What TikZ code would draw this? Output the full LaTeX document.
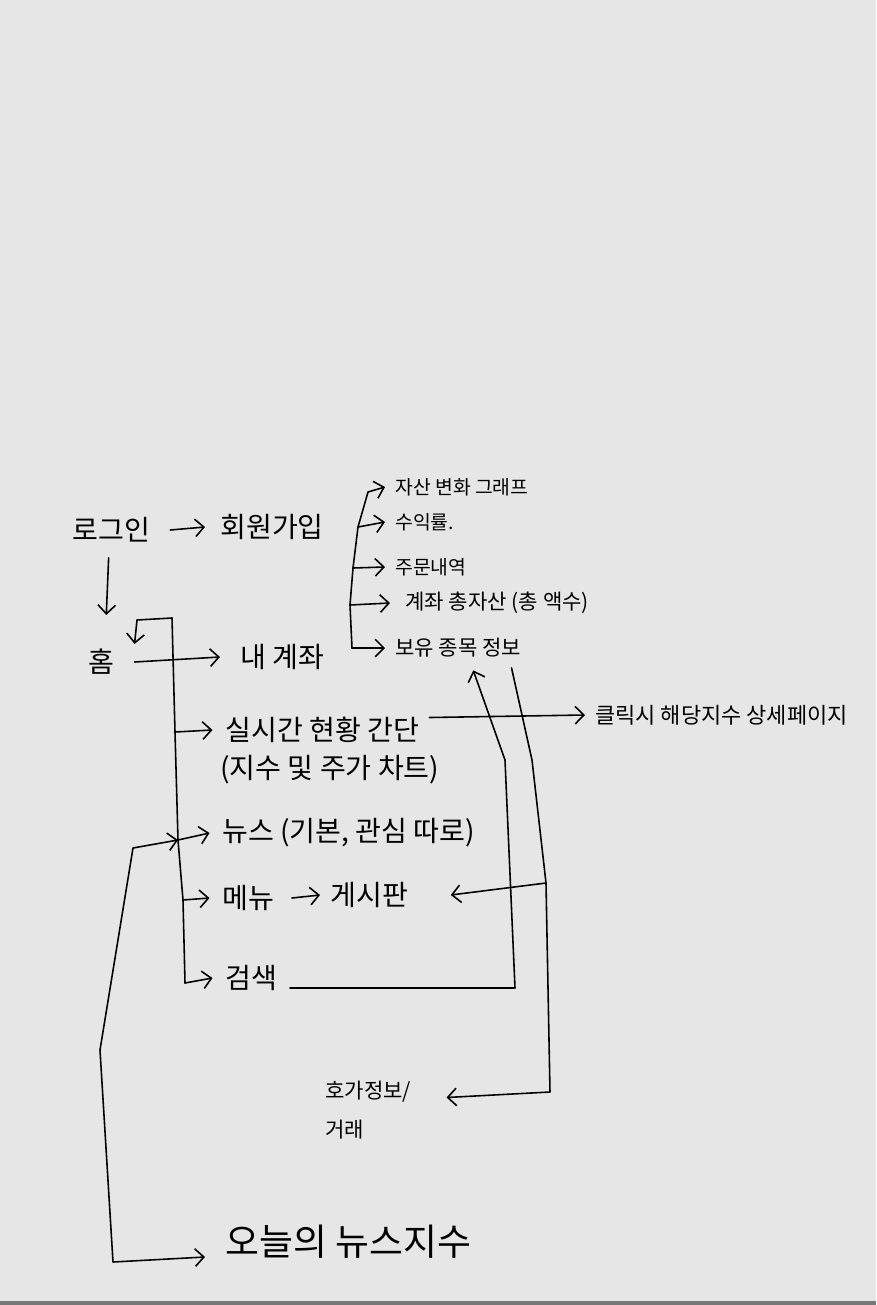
\documentclass[tikz,border=0pt]{standalone}
\usepackage{fontspec}
\setmainfont{Noto Sans CJK KR}
\usetikzlibrary{arrows.meta}
\definecolor{paper}{HTML}{E6E6E6}
\definecolor{rim}{HTML}{777777}

\begin{document}
\begin{tikzpicture}[x=0.02cm, y=-0.02cm,
  lbl/.style={anchor=west, inner sep=0pt, font=\fontsize{16}{19}\selectfont},
  sub/.style={anchor=west, inner sep=0pt, font=\fontsize{11}{13}\selectfont},
  ln/.style={line width=0.9pt, line cap=round, line join=round},
  arr/.style={ln, -{Straight Barb[length=5pt, width=10pt]}}]

% Paper
\fill[paper] (0,0) rectangle (876,1305);
\fill[rim] (0,1301) rectangle (876,1305);
\useasboundingbox (0,0) rectangle (876,1305);

% Pages
\node[lbl] (login) at (72,530) {로그인};
\node[lbl] (signup) at (220,527) {회원가입};
\node[lbl] (home) at (88,662) {홈};
\node[lbl] (myacct) at (240,657) {내 계좌};
\node[sub] (assetgraph) at (395,487) {자산 변화 그래프};
\node[sub] (yield) at (395,522) {수익률.};
\node[sub] (orders) at (395,567) {주문내역};
\node[sub, font=\fontsize{12}{14}\selectfont] (totalasset) at (405,603) {계좌 총자산 (총 액수)};
\node[sub, font=\fontsize{12}{14}\selectfont] (holdings) at (395,648) {보유 종목 정보};
\node[lbl] (realtime) at (225,730) {실시간 현황 간단};
\node[lbl] (realtimesub) at (220,770) {(지수 및 주가 차트)};
\node[sub, font=\fontsize{12.5}{15}\selectfont] (detail) at (595,715) {클릭시 해당지수 상세페이지};
\node[lbl] (news) at (222,833) {뉴스 (기본, 관심 따로)};
\node[lbl] (menu) at (222,898) {메뉴};
\node[lbl] (board) at (330,895) {게시판};
\node[lbl] (search) at (225,978) {검색};
\node[lbl, align=left, font=\fontsize{12}{22}\selectfont] (quote) at (325,1110) {호가정보/\\거래};
\node[lbl, font=\fontsize{21}{24}\selectfont] (todaynews) at (225,1242) {오늘의 뉴스지수};

% Login
\draw[arr] ([xshift=0.4cm]login.east) -- ([xshift=-0.3cm]signup.west);
\draw[arr] ([xshift=-0.05cm,yshift=-0.3cm]login.south) -- ([xshift=0.1cm,yshift=0.68cm]home.north);

% Home menu trunk
\coordinate (t0) at (172,618);
\coordinate (t1) at (175,732);
\coordinate (t2) at (178,840);
\coordinate (t3) at (183,900);
\coordinate (t4) at (185,983);
\draw[ln] (t0) -- (t1) -- (t2) -- (t3) -- (t4);
\draw[arr] (t0) -- (137,620) -- ([xshift=0.4cm,yshift=0.1cm]home.north east);
\draw[arr] ([xshift=0.4cm]home.east) -- ([xshift=-0.4cm]myacct.west);
\draw[arr] (t1) -- ([xshift=-0.25cm]realtime.west);
\draw[arr] (t2) -- ([xshift=-0.25cm]news.west);
\draw[arr] (t3) -- ([xshift=-0.25cm]menu.west);
\draw[arr] (t4) -- ([xshift=-0.25cm]search.west);

% My account
\coordinate (s0) at (368,492);
\coordinate (s1) at (358,527);
\coordinate (s2) at (353,568);
\coordinate (s3) at (350,605);
\coordinate (s4) at (352,648);
\draw[ln] (s0) -- (s1) -- (s2) -- (s3) -- (s4);
\draw[arr] (s0) -- ([xshift=-0.2cm]assetgraph.west);
\draw[arr] (s1) -- ([xshift=-0.2cm]yield.west);
\draw[arr] (s2) -- ([xshift=-0.2cm]orders.west);
\draw[arr] (s3) -- ([xshift=-0.3cm]totalasset.west);
\draw[arr] (s4) -- ([xshift=-0.2cm]holdings.west);

% Other links
\draw[arr] ([xshift=0.2cm,yshift=0.25cm]realtime.east) -- ([xshift=-0.2cm]detail.west);
\draw[arr] ([xshift=0.35cm]menu.east) -- ([xshift=-0.2cm]board.west);
\draw[arr] ([xshift=0.25cm,yshift=-0.2cm]search.east) -- (515,988) -- (505,760)
  -- ([xshift=0.3cm,yshift=-0.25cm]holdings.south);
\coordinate (r1) at (546,883);
\draw[arr] ([xshift=-0.2cm,yshift=-0.2cm]holdings.south east) -- (532,760) -- (r1) -- (550,1092)
  -- ([xshift=0.7cm,yshift=0.25cm]quote.east);
\draw[arr] (r1) -- ([xshift=0.85cm]board.east);
\draw[{Straight Barb[length=5pt, width=10pt]}-{Straight Barb[length=5pt, width=10pt]}, ln]
  ([xshift=-0.4cm,yshift=-0.3cm]todaynews.west) -- (113,1262) -- (100,1050) -- (133,848) -- (t2);

\end{tikzpicture}
\end{document}
